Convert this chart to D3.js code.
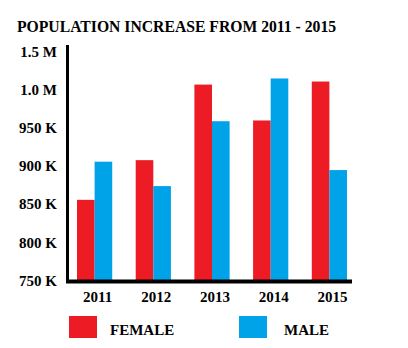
<!DOCTYPE html>
<html>
<head>
<meta charset="utf-8">
<script src="https://cdn.jsdelivr.net/npm/d3@7"></script>
<style>
  body { margin: 0; background: #fff; }
</style>
</head>
<body>
<div id="chart"></div>
<script>
const years = ["2011", "2012", "2013", "2014", "2015"];
const female = [855000, 907000, 1006000, 959000, 1010000];
const male = [905000, 873000, 958000, 1014000, 894000];
const tickValues = [750000, 800000, 850000, 900000, 950000, 1000000, 1050000];
const tickLabels = ["750 K", "800 K", "850 K", "900 K", "950 K", "1.0 M", "1.5 M"];
const seriesNames = ["FEMALE", "MALE"];
const colors = ["#ed1c24", "#00a2e8"];

const width = 408, height = 348;
const font = "'Liberation Serif', 'Times New Roman', serif";

const svg = d3.select("#chart")
    .append("svg")
    .attr("width", width)
    .attr("height", height)
    .attr("font-family", font)
    .attr("font-weight", "bold");

svg.append("text")
    .attr("x", 17)
    .attr("y", 32)
    .attr("font-size", 15.7)
    .text("POPULATION INCREASE FROM 2011 - 2015");

const y = d3.scaleLinear()
    .domain([750000, 1050000])
    .range([280, 51]);

const x = d3.scaleBand()
    .domain(years)
    .range([77, 347])
    .paddingInner(0.4);

const xs = d3.scaleBand()
    .domain(seriesNames)
    .range([0, x.bandwidth()]);

// y labels
const yAxis = d3.axisLeft(y)
    .tickValues(tickValues)
    .tickSize(0)
    .tickPadding(0)
    .tickFormat((d, i) => tickLabels[i]);

const gy = svg.append("g")
    .attr("transform", "translate(57,0)")
    .call(yAxis)
    .attr("font-family", font)
    .attr("font-size", 15);
gy.select(".domain").remove();
gy.selectAll("text")
    .attr("fill", "#000")
    .attr("dy", "0.35em");

// bars
const rows = years.map((yr, i) => ({ year: yr, values: [female[i], male[i]] }));

const groups = svg.append("g")
    .selectAll("g")
    .data(rows)
    .enter().append("g")
    .attr("transform", d => `translate(${x(d.year)},0)`);

groups.selectAll("rect")
    .data(d => d.values.map((v, j) => ({ name: seriesNames[j], value: v, j: j })))
    .enter().append("rect")
    .attr("x", d => xs(d.name))
    .attr("width", xs.bandwidth())
    .attr("y", d => y(d.value))
    .attr("height", d => 281 - y(d.value))
    .style("fill", d => colors[d.j]);

// axis lines
svg.append("line")
    .attr("x1", 67.5).attr("x2", 67.5)
    .attr("y1", 45).attr("y2", 283)
    .style("stroke", "#000")
    .style("stroke-width", 3);

svg.append("line")
    .attr("x1", 66).attr("x2", 352)
    .attr("y1", 281.5).attr("y2", 281.5)
    .style("stroke", "#000")
    .style("stroke-width", 4);

// x labels
const xAxis = d3.axisBottom(x).tickSize(0).tickPadding(0);
const gx = svg.append("g")
    .attr("transform", "translate(3,291)")
    .call(xAxis)
    .attr("font-family", font)
    .attr("font-size", 15);
gx.select(".domain").remove();
gx.selectAll("text")
    .attr("fill", "#000")
    .attr("dy", "0.75em");

// legend
const legendX = [69, 239];
const legendText = [110, 284];
const legend = svg.append("g")
    .selectAll("g")
    .data(seriesNames)
    .enter().append("g");

legend.append("rect")
    .attr("x", (d, i) => legendX[i])
    .attr("y", 316)
    .attr("width", 28)
    .attr("height", 22)
    .style("fill", (d, i) => colors[i]);

legend.append("text")
    .attr("x", (d, i) => legendText[i])
    .attr("y", 335)
    .attr("font-size", 15)
    .text(d => d);
</script>
</body>
</html>
